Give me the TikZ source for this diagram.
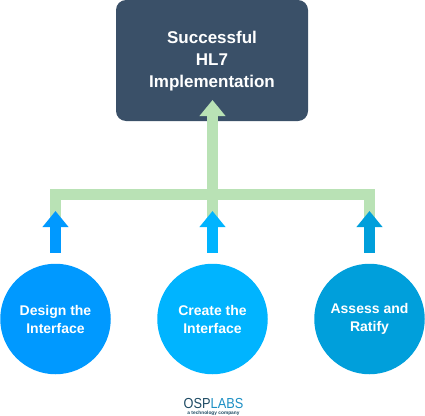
\documentclass[tikz,border=0pt]{standalone}
\usepackage{fontspec}
\setmainfont{Liberation Sans}
\usepackage{tikz}
\usetikzlibrary{arrows.meta,positioning,calc}

\definecolor{boxblue}{HTML}{3A5068}
\definecolor{linkgreen}{HTML}{B9E2B5}
\definecolor{stepa}{HTML}{0099FF}
\definecolor{stepb}{HTML}{00B4FF}
\definecolor{stepc}{HTML}{009FDB}
\definecolor{ospdark}{HTML}{1D4A63}
\definecolor{osplight}{HTML}{1C8FC4}

\begin{document}
\begin{tikzpicture}[
    x=1pt, y=-1pt,
    goal/.style={draw=none, fill=boxblue, rounded corners=10pt, minimum width=192pt, minimum height=121pt, inner sep=0pt, align=center, text=white, font=\fontsize{17}{22}\selectfont\bfseries},
    stepnode/.style={circle, minimum size=110.5pt, inner sep=0pt, align=center, text=white, font=\fontsize{14}{18}\selectfont\bfseries},
    uparr/.style={line width=11pt, -{Triangle[width=25pt,length=16pt]}, shorten <=11pt},
    link/.style={line width=11pt, linkgreen}
]
\useasboundingbox (0,0) rectangle (425,415);

\node[goal] (goal) at (212,60.5) {\rule{0pt}{14.5pt}Successful\\HL7\\Implementation};
\node[stepnode, fill=stepa] (design) at (55.5,319) {Design the\\Interface};
\node[stepnode, fill=stepb] (create) at (212.5,319) {Create the\\Interface};
\node[stepnode, fill=stepc] (assess) at (369.5,319) {Assess and\\Ratify};

\coordinate (tapa) at (55.5,211);
\coordinate (tapb) at (212.5,211);
\coordinate (tapc) at (369.5,211);
\coordinate (foota) at (55.5,218);
\coordinate (footb) at (212.5,218);
\coordinate (footc) at (369.5,218);
\coordinate (cornera) at (55.5,194.5);
\coordinate (cornerc) at (369.5,194.5);
\coordinate (goaltip) at (212.5,100);

% green frame
\draw[link, line join=miter] (foota) -- (cornera) -- (cornerc) -- (footc);
\draw[link, -{Triangle[width=25pt,length=16pt]}] (footb) -- (goaltip);

\draw[uparr, stepa] (design.north) -- (tapa);
\draw[uparr, stepb] (create.north) -- (tapb);
\draw[uparr, stepc] (assess.north) -- (tapc);

\node[inner sep=0pt, font=\fontsize{14.5}{15}\selectfont] (logo) at (213.5,404) {\scalebox{0.88}[1]{\textcolor{ospdark}{OSP}\textcolor{osplight}{LABS}}};
\node[inner sep=0pt, font=\fontsize{4.8}{5}\selectfont\bfseries, text=ospdark, below=1.5pt of logo] (tagline) {a technology company};
\end{tikzpicture}
\end{document}
